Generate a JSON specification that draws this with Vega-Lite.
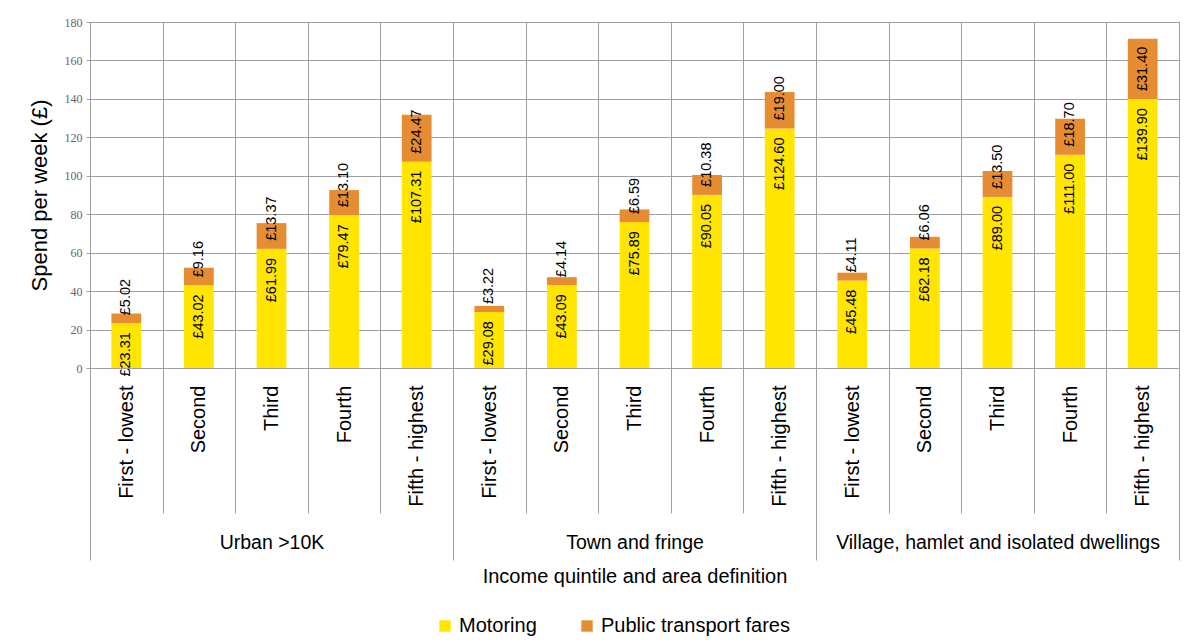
{
  "$schema": "https://vega.github.io/schema/vega-lite/v6.json",
  "width": 1089,
  "height": 346,
  "padding": {"left": 28, "top": 16, "right": 6, "bottom": 5},
  "autosize": {"type": "pad"},
  "config": {
    "view": {"stroke": "#a0a0a0", "strokeWidth": 1},
    "font": "Liberation Sans",
    "locale": {"number": {"decimal": ".", "thousands": ",", "grouping": [3], "currency": ["£", ""]}},
    "axisY": {
      "titleFontSize": 22, "titleFontWeight": "normal", "titleColor": "black", "titlePadding": 13,
      "labelOverlap": false, "labelFlush": false,
      "labelFont": "Liberation Serif", "labelFontSize": 12, "labelColor": "#666666",
      "labelPadding": 4, "tickSize": 4, "tickColor": "#a0a0a0",
      "domainColor": "#a0a0a0", "gridColor": "#a0a0a0", "gridOpacity": 1
    }
  },
  "data": {
    "values": [
      {"area": "Urban >10K", "q": "First - lowest", "series": "Motoring", "value": 23.31},
      {"area": "Urban >10K", "q": "First - lowest", "series": "Public transport fares", "value": 5.02},
      {"area": "Urban >10K", "q": "Second", "series": "Motoring", "value": 43.02},
      {"area": "Urban >10K", "q": "Second", "series": "Public transport fares", "value": 9.16},
      {"area": "Urban >10K", "q": "Third", "series": "Motoring", "value": 61.99},
      {"area": "Urban >10K", "q": "Third", "series": "Public transport fares", "value": 13.37},
      {"area": "Urban >10K", "q": "Fourth", "series": "Motoring", "value": 79.47},
      {"area": "Urban >10K", "q": "Fourth", "series": "Public transport fares", "value": 13.10},
      {"area": "Urban >10K", "q": "Fifth - highest", "series": "Motoring", "value": 107.31},
      {"area": "Urban >10K", "q": "Fifth - highest", "series": "Public transport fares", "value": 24.47},
      {"area": "Town and fringe", "q": "First - lowest", "series": "Motoring", "value": 29.08},
      {"area": "Town and fringe", "q": "First - lowest", "series": "Public transport fares", "value": 3.22},
      {"area": "Town and fringe", "q": "Second", "series": "Motoring", "value": 43.09},
      {"area": "Town and fringe", "q": "Second", "series": "Public transport fares", "value": 4.14},
      {"area": "Town and fringe", "q": "Third", "series": "Motoring", "value": 75.89},
      {"area": "Town and fringe", "q": "Third", "series": "Public transport fares", "value": 6.59},
      {"area": "Town and fringe", "q": "Fourth", "series": "Motoring", "value": 90.05},
      {"area": "Town and fringe", "q": "Fourth", "series": "Public transport fares", "value": 10.38},
      {"area": "Town and fringe", "q": "Fifth - highest", "series": "Motoring", "value": 124.60},
      {"area": "Town and fringe", "q": "Fifth - highest", "series": "Public transport fares", "value": 19.00},
      {"area": "Village, hamlet and isolated dwellings", "q": "First - lowest", "series": "Motoring", "value": 45.48},
      {"area": "Village, hamlet and isolated dwellings", "q": "First - lowest", "series": "Public transport fares", "value": 4.11},
      {"area": "Village, hamlet and isolated dwellings", "q": "Second", "series": "Motoring", "value": 62.18},
      {"area": "Village, hamlet and isolated dwellings", "q": "Second", "series": "Public transport fares", "value": 6.06},
      {"area": "Village, hamlet and isolated dwellings", "q": "Third", "series": "Motoring", "value": 89.00},
      {"area": "Village, hamlet and isolated dwellings", "q": "Third", "series": "Public transport fares", "value": 13.50},
      {"area": "Village, hamlet and isolated dwellings", "q": "Fourth", "series": "Motoring", "value": 111.00},
      {"area": "Village, hamlet and isolated dwellings", "q": "Fourth", "series": "Public transport fares", "value": 18.70},
      {"area": "Village, hamlet and isolated dwellings", "q": "Fifth - highest", "series": "Motoring", "value": 139.90},
      {"area": "Village, hamlet and isolated dwellings", "q": "Fifth - highest", "series": "Public transport fares", "value": 31.40}
    ]
  },
  "transform": [
    {"calculate": "datum.area + '|' + datum.q", "as": "id"},
    {"stack": "value", "groupby": ["id"], "sort": [{"field": "series", "order": "ascending"}], "as": ["y0", "y1"]}
  ],
  "layer": [
    {
      "layer": [
        {
          "mark": {"type": "bar", "width": {"band": 0.41}},
          "encoding": {
            "x": {
              "field": "id", "type": "nominal", "sort": null,
              "scale": {"type": "band", "paddingInner": 0, "paddingOuter": 0},
              "axis": {
                "orient": "bottom", "title": null,
                "labelExpr": "split(datum.label, '|')[1]",
                "labelAngle": 270, "labelAlign": "right", "labelBaseline": "middle",
                "labelFontSize": 20, "labelColor": "black", "labelPadding": -128, "labelLimit": 0,
                "ticks": true, "tickSize": 145, "tickColor": "#a0a0a0", "tickBand": "extent",
                "grid": true, "gridColor": "#a0a0a0", "gridOpacity": 1,
                "domainColor": "#a0a0a0"
              }
            },
            "y": {
              "field": "y1", "type": "quantitative",
              "scale": {"domain": [0, 180], "nice": false},
              "axis": {"title": "Spend per week (£)", "values": [0, 20, 40, 60, 80, 100, 120, 140, 160, 180]}
            },
            "y2": {"field": "y0"},
            "color": {
              "field": "series", "type": "nominal",
              "scale": {"domain": ["Motoring", "Public transport fares"], "range": ["#FFE500", "#E68C33"]},
              "legend": {
                "orient": "none", "legendX": 345, "legendY": 594,
                "direction": "horizontal", "title": null,
                "labelFontSize": 20, "labelColor": "black", "labelLimit": 0, "symbolType": "square",
                "symbolSize": 130, "symbolStrokeWidth": 0, "columnPadding": 40, "labelOffset": 4
              }
            }
          }
        },
        {
          "transform": [{"filter": "datum.series == 'Motoring'"}],
          "mark": {"type": "text", "angle": 270, "align": "right", "baseline": "middle", "dx": -9, "fontSize": 14.5, "color": "black"},
          "encoding": {
            "x": {"field": "id", "type": "nominal", "sort": null, "scale": {"type": "band", "paddingInner": 0, "paddingOuter": 0}},
            "y": {"field": "y1", "type": "quantitative", "axis": {"title": "Spend per week (£)", "values": [0, 20, 40, 60, 80, 100, 120, 140, 160, 180]}},
            "text": {"field": "value", "type": "quantitative", "format": "$.2f"}
          }
        },
        {
          "transform": [{"filter": "datum.series != 'Motoring'"}],
          "mark": {"type": "text", "angle": 270, "align": "left", "baseline": "middle", "dx": 8, "fontSize": 14.5, "color": "black"},
          "encoding": {
            "x": {"field": "id", "type": "nominal", "sort": null, "scale": {"type": "band", "paddingInner": 0, "paddingOuter": 0}},
            "y": {"field": "y0", "type": "quantitative", "axis": {"title": "Spend per week (£)", "values": [0, 20, 40, 60, 80, 100, 120, 140, 160, 180]}},
            "text": {"field": "value", "type": "quantitative", "format": "$.2f"}
          }
        }
      ]
    },
    {
      "mark": {"type": "rule", "opacity": 0},
      "encoding": {
        "x": {
          "field": "area", "type": "nominal", "sort": null,
          "scale": {"type": "band", "paddingInner": 0, "paddingOuter": 0},
          "axis": {
            "orient": "bottom",
            "title": "Income quintile and area definition", "titleFontSize": 20,
            "titleFontWeight": "normal", "titleColor": "black", "titlePadding": 6,
            "labelAngle": 0, "labelAlign": "center", "labelBaseline": "top",
            "labelFontSize": 19.5, "labelColor": "black", "labelPadding": -27, "labelLimit": 0,
            "ticks": true, "tickBand": "extent", "tickSize": 192, "tickColor": "#a0a0a0",
            "domain": false, "grid": false
          }
        }
      }
    }
  ],
  "resolve": {"scale": {"x": "independent"}, "axis": {"x": "independent"}}
}
